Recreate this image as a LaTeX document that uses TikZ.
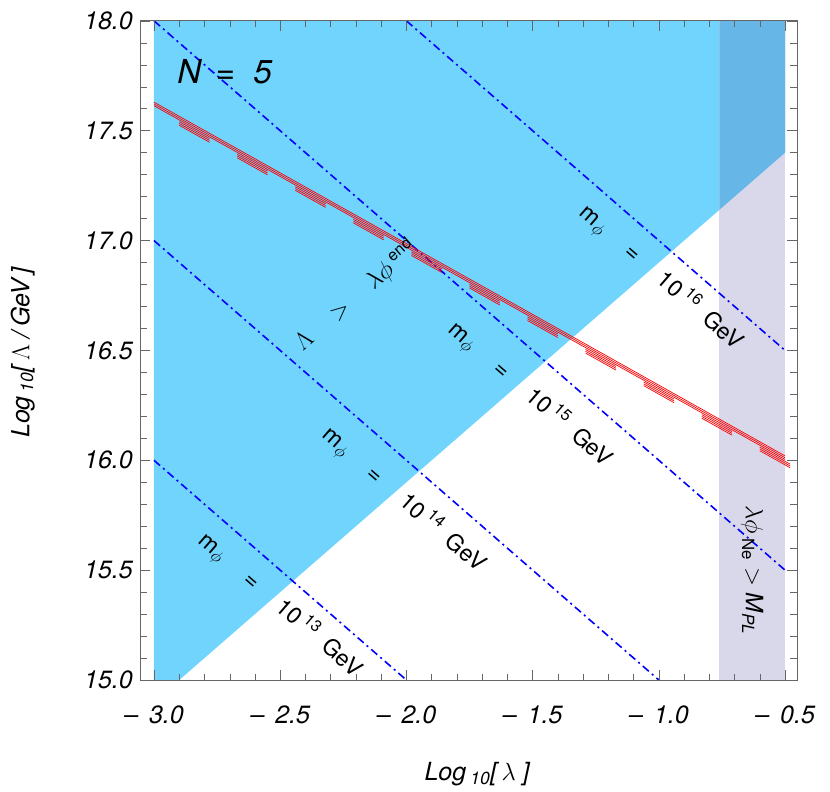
\documentclass[tikz,border=0pt]{standalone}
\usepackage{fontspec}
\setsansfont{TeX Gyre Heros}
\usepackage{amsmath}
\begin{document}
\begin{tikzpicture}[x=252.4pt,y=219.7pt,font=\sffamily,
    mline/.style={blue,line width=1.6pt,dash pattern=on 8pt off 4pt on 2pt off 4pt},
    mlabel/.style={rotate=-41,font=\sffamily\fontsize{23}{23}\selectfont},
    tlabel/.style={font=\sffamily\itshape\fontsize{25}{25}\selectfont},
    redline/.style={red,line width=0.7pt}]
  \useasboundingbox (-3.610,14.495) rectangle (-0.322,18.095);
  % regions
  \fill[fill={rgb,255:red,112;green,212;blue,252}] (-3,15) -- (-2.9,15) -- (-0.5,17.4) -- (-0.5,18) -- (-3,18) -- cycle;
  \fill[fill={rgb,255:red,217;green,216;blue,234}] (-0.76,15) rectangle (-0.5,18);
  \fill[fill={rgb,255:red,102;green,182;blue,232}] (-0.76,17.14) -- (-0.5,17.4) -- (-0.5,18) -- (-0.76,18) -- cycle;
  % mass lines
  \draw[mline] (-2,18) -- (-0.5,16.5);
  \draw[mline] (-3,18) -- (-0.5,15.5);
  \draw[mline] (-3,17) -- (-1,15);
  \draw[mline] (-3,16) -- (-2,15);
  % red curve
  \foreach \s in {0,-1.8,-3.6}
    \draw[redline,yshift=\s pt] (-3,17.63) -- (-0.5,16.02);
  \foreach \x in {-2.9,-2.67,...,-0.6}
    \foreach \s in {-5.4,-7.2,-9}
      \draw[redline,yshift=\s pt] (\x,{17.63-0.644*(\x+3)}) -- ({\x+0.12},{17.63-0.644*(\x+0.12+3)});
  % frame and ticks
  \draw[gray!80!black,line width=0.8pt] (-3.055,15) rectangle (-0.453,18);
  \foreach \x in {-3.0,-2.9,...,-0.45} {
    \draw[gray!80!black] (\x,15) -- ++(0,6pt);
    \draw[gray!80!black] (\x,18) -- ++(0,-6pt);
  }
  \foreach \y in {15.0,15.1,...,18.05} {
    \draw[gray!80!black] (-3.055,\y) -- ++(7pt,0);
    \draw[gray!80!black] (-0.453,\y) -- ++(-7pt,0);
  }
  \foreach \x/\t in {-3/3.0,-2.5/2.5,-2/2.0,-1.5/1.5,-1/1.0,-0.5/0.5} {
    \draw[gray!80!black] (\x,15) -- ++(0,10pt);
    \draw[gray!80!black] (\x,18) -- ++(0,-10pt);
    \node[tlabel] (xt\t) at (\x,14.84) {--\, \t};
  }
  \foreach \y in {15.0,15.5,16.0,16.5,17.0,17.5,18.0} {
    \draw[gray!80!black] (-3.055,\y) -- ++(10pt,0);
    \draw[gray!80!black] (-0.453,\y) -- ++(-10pt,0);
    \node[tlabel,anchor=east] (yt\y) at (-3.07,\y) {\y};
  }
  % axis labels
  \node[tlabel] (xlab) at (-1.72,14.57) {Log\,$_{\text{\itshape 10}}$[\,$\lambda$\ ]};
  \node[tlabel,rotate=90] (ylab) at (-3.52,16.49) {Log\,$_{\text{\itshape 10}}$[\,$\Lambda$ /\,GeV\,]};
  % texts
  \node[font=\sffamily\itshape\fontsize{33}{33}\selectfont] (nlab) at (-2.72,17.77) {N\, = \ 5};
  \node[mlabel] (m16) at (-0.99,16.83) {m$_{\phi}$ \quad = \quad 10\,\textsuperscript{16}\ \ GeV};
  \node[mlabel] (m15) at (-1.51,16.30) {m$_{\phi}$ \quad = \quad 10\,\textsuperscript{15}\ \ GeV};
  \node[mlabel] (m14) at (-2.01,15.82) {m$_{\phi}$ \quad = \quad 10\,\textsuperscript{14}\ \ GeV};
  \node[mlabel] (m13) at (-2.50,15.34) {m$_{\phi}$ \quad = \quad 10\,\textsuperscript{13}\ \ GeV};
  \node[rotate=41,font=\sffamily\fontsize{23}{23}\selectfont] (lend) at (-2.20,16.75) {$\Lambda$ \quad $>$ \quad $\lambda\phi$\,\textsuperscript{end}};
  \node[rotate=-90,font=\sffamily\fontsize{24}{24}\selectfont] (lpl) at (-0.63,15.5) {$\lambda\phi$\,$_{\text{Ne}}$ $>$ \textit{M}$_{\text{\itshape PL}}$};
\end{tikzpicture}
\end{document}
